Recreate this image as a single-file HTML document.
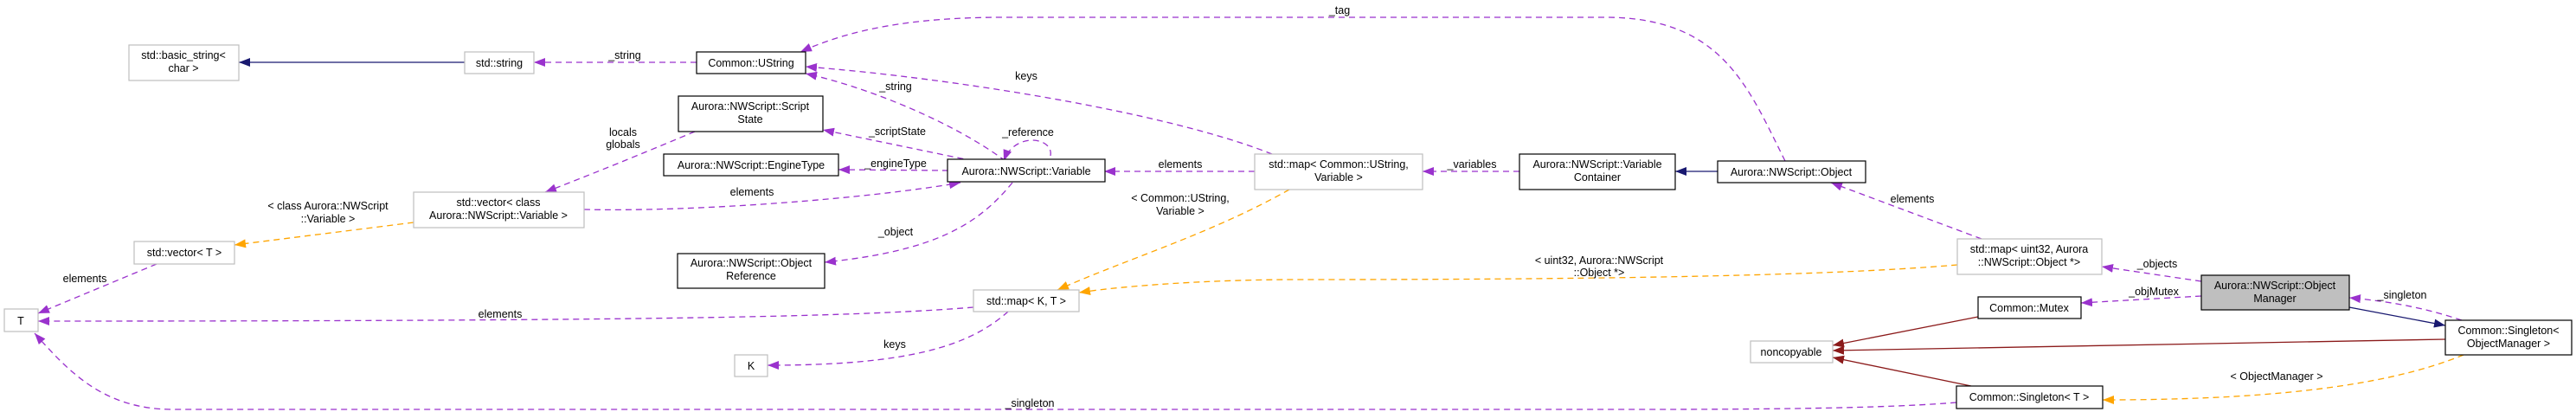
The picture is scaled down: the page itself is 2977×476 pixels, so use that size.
<!DOCTYPE html>
<html><head><meta charset="utf-8"><style>
html,body{margin:0;padding:0;background:#fff;}
svg{display:block;}
text{font-family:"Liberation Sans",sans-serif;font-size:12.5px;fill:#000;}
</style></head><body>
<svg width="2977" height="476" viewBox="0 0 2977 476" xmlns="http://www.w3.org/2000/svg">
<defs>
<marker id="mp" markerUnits="userSpaceOnUse" markerWidth="14" markerHeight="12" refX="13" refY="5" orient="auto"><polygon points="0,0 13,5 0,10" fill="#9a32cd"/></marker>
<marker id="mo" markerUnits="userSpaceOnUse" markerWidth="14" markerHeight="12" refX="13" refY="5" orient="auto"><polygon points="0,0 13,5 0,10" fill="#ffa500"/></marker>
<marker id="mn" markerUnits="userSpaceOnUse" markerWidth="14" markerHeight="12" refX="13" refY="5" orient="auto"><polygon points="0,0 13,5 0,10" fill="#191970"/></marker>
<marker id="mr" markerUnits="userSpaceOnUse" markerWidth="14" markerHeight="12" refX="13" refY="5" orient="auto"><polygon points="0,0 13,5 0,10" fill="#8b1a1a"/></marker>
</defs>
<g fill="none" stroke-width="1.3">
<g stroke="#9a32cd" stroke-dasharray="7,5" marker-end="url(#mp)">
<path d="M805,72 L617,72"/>
<path d="M1162,186 C1100,140 1000,100 931,85"/>
<path d="M1470,178 C1350,130 1100,90 931,77"/>
<path d="M2063,186 C2020,100 1990,20 1855,20 L1160,20 C1050,20 980,35 925,60"/>
<path d="M1125,186 L951,150"/>
<path d="M1096,197 L969,196"/>
<path d="M803,152 C760,170 700,195 630,222"/>
<path d="M675,242 C800,245 1000,230 1110,211"/>
<path d="M1214,180 C1218,158 1172,152 1160,186"/>
<path d="M1170,211 C1130,260 1080,290 953,303"/>
<path d="M1450,198 L1276,198"/>
<path d="M1756,198 L1644,198"/>
<path d="M2290,276 L2116,211"/>
<path d="M2544,325 L2429,308"/>
<path d="M2544,342 L2405,350"/>
<path d="M2845,370 C2800,355 2760,348 2715,344"/>
<path d="M1125,355 C1000,365 800,371 44,371"/>
<path d="M1165,360 C1120,400 1050,422 887,422"/>
<path d="M2261,465 C2200,470 2100,473 1900,473 L200,473 C120,473 80,430 40,385"/>
<path d="M181,305 L44,362"/>
</g>
<g stroke="#ffa500" stroke-dasharray="7,5" marker-end="url(#mo)">
<path d="M1490,219 C1400,270 1300,300 1222,335"/>
<path d="M2262,306 C2100,320 1800,323 1500,323 C1400,323 1300,330 1247,338"/>
<path d="M478,257 L271,283"/>
<path d="M2847,410 C2750,450 2600,462 2430,462"/>
</g>
<g stroke="#191970" marker-end="url(#mn)">
<path d="M537,72 L276,72"/>
<path d="M1985,198 L1936,198"/>
<path d="M2715,355 L2826,376"/>
</g>
<g stroke="#8b1a1a" marker-end="url(#mr)">
<path d="M2286,366 L2118,399"/>
<path d="M2826,392 L2118,405"/>
<path d="M2278,446 L2118,413"/>
</g>
</g>
<g stroke-width="1.2">
<g fill="#fff" stroke="#bfbfbf">
<rect x="149" y="52" width="127" height="41"/>
<rect x="537" y="60" width="80" height="25"/>
<rect x="478" y="222" width="197" height="41"/>
<rect x="155" y="279" width="116" height="26"/>
<rect x="5" y="357" width="39" height="26"/>
<rect x="1125" y="335" width="122" height="25"/>
<rect x="849" y="410" width="38" height="25"/>
<rect x="1450" y="178" width="194" height="41"/>
<rect x="2023" y="394" width="95" height="25"/>
<rect x="2262" y="276" width="167" height="41"/>
</g>
<g fill="#fff" stroke="#000">
<rect x="805" y="60" width="126" height="25"/>
<rect x="784" y="111" width="167" height="41"/>
<rect x="767" y="178" width="202" height="25"/>
<rect x="1095" y="184" width="182" height="26"/>
<rect x="783" y="293" width="170" height="40"/>
<rect x="1756" y="178" width="180" height="41"/>
<rect x="1985" y="186" width="171" height="25"/>
<rect x="2286" y="343" width="119" height="25"/>
<rect x="2826" y="370" width="146" height="40"/>
<rect x="2261" y="446" width="169" height="26"/>
<rect x="2544" y="318" width="171" height="40" fill="#bfbfbf"/>
</g>
</g>
<g text-anchor="middle">
<text x="212" y="68">std::basic_string&lt;</text><text x="212" y="83">char &gt;</text>
<text x="577" y="77">std::string</text>
<text x="576" y="238">std::vector&lt; class</text><text x="576" y="253">Aurora::NWScript::Variable &gt;</text>
<text x="213" y="296">std::vector&lt; T &gt;</text>
<text x="24" y="375">T</text>
<text x="1186" y="352">std::map&lt; K, T &gt;</text>
<text x="868" y="427">K</text>
<text x="1547" y="194">std::map&lt; Common::UString,</text><text x="1547" y="209">Variable &gt;</text>
<text x="2070" y="411">noncopyable</text>
<text x="2345" y="292">std::map&lt; uint32, Aurora</text><text x="2345" y="307">::NWScript::Object *&gt;</text>
<text x="868" y="77">Common::UString</text>
<text x="867" y="127">Aurora::NWScript::Script</text><text x="867" y="142">State</text>
<text x="868" y="195">Aurora::NWScript::EngineType</text>
<text x="1186" y="202">Aurora::NWScript::Variable</text>
<text x="868" y="308">Aurora::NWScript::Object</text><text x="868" y="323">Reference</text>
<text x="1846" y="194">Aurora::NWScript::Variable</text><text x="1846" y="209">Container</text>
<text x="2070" y="203">Aurora::NWScript::Object</text>
<text x="2345" y="360">Common::Mutex</text>
<text x="2899" y="386">Common::Singleton&lt;</text><text x="2899" y="401">ObjectManager &gt;</text>
<text x="2345" y="463">Common::Singleton&lt; T &gt;</text>
<text x="2629" y="334">Aurora::NWScript::Object</text><text x="2629" y="349">Manager</text>
<!-- edge labels -->
<text x="722" y="68">_string</text>
<text x="720" y="157">locals</text><text x="720" y="171">globals</text>
<text x="379" y="242">&lt; class Aurora::NWScript</text><text x="379" y="257">::Variable &gt;</text>
<text x="98" y="326">elements</text>
<text x="578" y="367">elements</text>
<text x="1186" y="92">keys</text>
<text x="1035" y="104">_string</text>
<text x="1037" y="156">_scriptState</text>
<text x="1188" y="157">_reference</text>
<text x="1035" y="193">_engineType</text>
<text x="1364" y="194">elements</text>
<text x="869" y="226">elements</text>
<text x="1364" y="233">&lt; Common::UString,</text><text x="1364" y="248">Variable &gt;</text>
<text x="1035" y="272">_object</text>
<text x="1034" y="402">keys</text>
<text x="1190" y="470">_singleton</text>
<text x="1548" y="16">_tag</text>
<text x="1701" y="194">_variables</text>
<text x="2210" y="234">elements</text>
<text x="1848" y="305">&lt; uint32, Aurora::NWScript</text><text x="1848" y="319">::Object *&gt;</text>
<text x="2493" y="309">_objects</text>
<text x="2489" y="341">_objMutex</text>
<text x="2776" y="345">_singleton</text>
<text x="2631" y="439">&lt; ObjectManager &gt;</text>
</g>
</svg>
</body></html>
